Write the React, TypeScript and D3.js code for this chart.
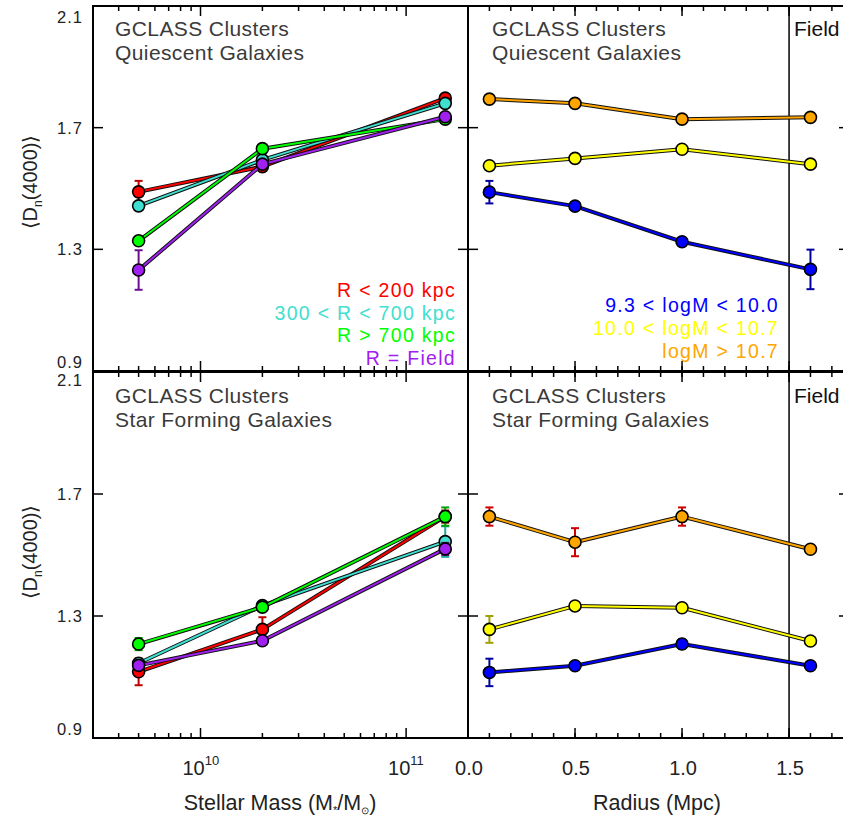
import React from "react";
import * as d3 from "d3";

// ---------- data ----------
const massBins = [5e9, 2e10, 1.55e11];
const radiusBins = [0.1, 0.5, 1.0, 1.6];

const qRed = [1.489, 1.572, 1.797];
const qRedErr = [0.036, 0.01, 0.01];
const qCyan = [1.443, 1.594, 1.78];
const qCyanErr = [0.01, 0.01, 0.01];
const qGreen = [1.328, 1.631, 1.728];
const qGreenErr = [0.01, 0.01, 0.01];
const qPurple = [1.232, 1.58, 1.736];
const qPurpleErr = [0.065, 0.01, 0.01];

const sfRed = [1.117, 1.256, 1.626];
const sfRedErr = [0.044, 0.04, 0.02];
const sfCyan = [1.145, 1.334, 1.544];
const sfCyanErr = [0.01, 0.01, 0.05];
const sfGreen = [1.208, 1.329, 1.626];
const sfGreenErr = [0.02, 0.01, 0.03];
const sfPurple = [1.138, 1.219, 1.52];
const sfPurpleErr = [0.01, 0.01, 0.02];

const qLow = [1.488, 1.442, 1.325, 1.234];
const qLowErr = [0.037, 0.01, 0.01, 0.065];
const qMid = [1.575, 1.599, 1.629, 1.58];
const qMidErr = [0.008, 0.008, 0.008, 0.012];
const qHigh = [1.794, 1.78, 1.728, 1.734];
const qHighErr = [0.005, 0.005, 0.005, 0.005];

const sfLow = [1.115, 1.137, 1.208, 1.137];
const sfLowErr = [0.045, 0.008, 0.015, 0.005];
const sfMid = [1.256, 1.333, 1.327, 1.218];
const sfMidErr = [0.044, 0.008, 0.008, 0.005];
const sfHigh = [1.626, 1.542, 1.626, 1.519];
const sfHighErr = [0.03, 0.046, 0.03, 0.005];

const yTicks = [0.9, 1.3, 1.7, 2.1];
const yTickLabels = ["0.9", "1.3", "1.7", "2.1"];
const massMajor = [1e10, 1e11];
const massMajorExp = ["10", "11"];
const massMinor = [4e9, 5e9, 6e9, 7e9, 8e9, 9e9, 2e10, 3e10, 4e10, 5e10, 6e10, 7e10, 8e10, 9e10];
const radMajor = [0, 0.5, 1.0, 1.5];
const radMajorLabels = ["0.0", "0.5", "1.0", "1.5"];
const radMinor = d3.range(1, 18).map((i) => i / 10);

const envLegend = ["R < 200 kpc", "300 < R < 700 kpc", "R > 700 kpc", "R = Field"];
const massLegend = ["9.3 < logM < 10.0", "10.0 < logM < 10.7", "logM > 10.7"];

// ---------- styles ----------
const C = {
  red: "#ff0000",
  cyan: "#40e0d0",
  green: "#00ff00",
  purple: "#a020f0",
  blue: "#0000ff",
  yellow: "#ffff00",
  orange: "#ffa500",
};
const EC = {
  red: "#c00000",
  cyan: "#20a8a0",
  green: "#00a000",
  purple: "#6a1090",
  blue: "#0000a0",
  yellow: "#a0a000",
  orange: "#d00000",
};

const FONT = "'Liberation Sans', Arial, Helvetica, sans-serif";

const LX0 = 93, LX1 = 468, RX0 = 468, RX1 = 849;
const TY0 = 6, TY1 = 371, BY0 = 372, BY1 = 738;

const xMass = d3.scaleLog().domain([3e9, 2e11]).range([LX0, LX1]);
const xRad = d3.scaleLinear().domain([0, 1.78]).range([RX0, RX1]);
const yTop = d3.scaleLinear().domain([0.9, 2.1]).range([TY1, TY0]);
const yBot = d3.scaleLinear().domain([0.9, 2.1]).range([BY1, BY0]);

type Series = { y: number[]; err: number[]; color: string; ecolor: string };

function SeriesG({ xs, s, x, y }: { xs: number[]; s: Series; x: any; y: any }) {
  const pts: [number, number][] = xs.map((xv, i) => [x(xv), y(s.y[i])]);
  const line = d3.line()(pts) || "";
  return (
    <g>
      {xs.map((xv, i) => {
        const cx = x(xv);
        const y1 = y(s.y[i] + s.err[i]);
        const y2 = y(s.y[i] - s.err[i]);
        return (
          <g key={i} stroke={s.ecolor} strokeWidth={2}>
            <line x1={cx} x2={cx} y1={y1} y2={y2} />
            <line x1={cx - 4} x2={cx + 4} y1={y1} y2={y1} />
            <line x1={cx - 4} x2={cx + 4} y1={y2} y2={y2} />
          </g>
        );
      })}
      <path d={line} fill="none" stroke="#111" strokeWidth={4} strokeLinejoin="round" />
      <path d={line} fill="none" stroke={s.color} strokeWidth={2} strokeLinejoin="round" />
      {pts.map((p, i) => (
        <circle key={i} cx={p[0]} cy={p[1]} r={6} fill={s.color} stroke="#000" strokeWidth={1.6} />
      ))}
    </g>
  );
}

function Frame({ x0, x1, y0, y1, xMajor, xMinor, xs, yScale, leftTicks, rightTicks }: any) {
  const els: any[] = [];
  xMajor.forEach((v: number, i: number) => {
    const px = xs(v);
    els.push(<line key={"xt" + i} x1={px} x2={px} y1={y0} y2={y0 + 10} />);
    els.push(<line key={"xb" + i} x1={px} x2={px} y1={y1} y2={y1 - 10} />);
  });
  xMinor.forEach((v: number, i: number) => {
    const px = xs(v);
    els.push(<line key={"mt" + i} x1={px} x2={px} y1={y0} y2={y0 + 5} />);
    els.push(<line key={"mb" + i} x1={px} x2={px} y1={y1} y2={y1 - 5} />);
  });
  yTicks.forEach((v, i) => {
    const py = yScale(v);
    if (leftTicks) els.push(<line key={"yl" + i} x1={x0} x2={x0 + 10} y1={py} y2={py} />);
    if (rightTicks) els.push(<line key={"yr" + i} x1={x1} x2={x1 - 10} y1={py} y2={py} />);
  });
  return (
    <g stroke="#000" strokeWidth={1.5} fill="none">
      {els}
      <rect x={x0} y={y0} width={x1 - x0} height={y1 - y0} strokeWidth={2} />
    </g>
  );
}

export default function App() {
  const topLeft: Series[] = [
    { y: qRed, err: qRedErr, color: C.red, ecolor: EC.red },
    { y: qCyan, err: qCyanErr, color: C.cyan, ecolor: EC.cyan },
    { y: qGreen, err: qGreenErr, color: C.green, ecolor: EC.green },
    { y: qPurple, err: qPurpleErr, color: C.purple, ecolor: EC.purple },
  ];
  const botLeft: Series[] = [
    { y: sfRed, err: sfRedErr, color: C.red, ecolor: EC.red },
    { y: sfCyan, err: sfCyanErr, color: C.cyan, ecolor: EC.cyan },
    { y: sfGreen, err: sfGreenErr, color: C.green, ecolor: EC.green },
    { y: sfPurple, err: sfPurpleErr, color: C.purple, ecolor: EC.purple },
  ];
  const topRight: Series[] = [
    { y: qHigh, err: qHighErr, color: C.orange, ecolor: EC.orange },
    { y: qMid, err: qMidErr, color: C.yellow, ecolor: EC.yellow },
    { y: qLow, err: qLowErr, color: C.blue, ecolor: EC.blue },
  ];
  const botRight: Series[] = [
    { y: sfHigh, err: sfHighErr, color: C.orange, ecolor: EC.orange },
    { y: sfMid, err: sfMidErr, color: C.yellow, ecolor: EC.yellow },
    { y: sfLow, err: sfLowErr, color: C.blue, ecolor: EC.blue },
  ];
  const envColors = [C.red, C.cyan, C.green, C.purple];
  const massColors = [C.blue, C.yellow, C.orange];
  const txt = "#3a3a3a";

  const yLabelY = (panel: "top" | "bot", v: number) => {
    const s = panel === "top" ? yTop : yBot;
    if (v === 2.1) return panel === "top" ? 23 : s(v) + 14;
    if (v === 0.9) return s(v) - 3.5;
    return s(v) + 6;
  };

  return (
    <svg
      width={843}
      height={818}
      style={{ position: "absolute", left: 0, top: 0, background: "#fff" }}
      fontFamily={FONT}
    >
      <rect x={0} y={0} width={843} height={818} fill="#fff" />

      {/* series */}
      {topLeft.map((s, i) => (
        <SeriesG key={"tl" + i} xs={massBins} s={s} x={xMass} y={yTop} />
      ))}
      {botLeft.map((s, i) => (
        <SeriesG key={"bl" + i} xs={massBins} s={s} x={xMass} y={yBot} />
      ))}
      {/* Field dividers */}
      <line x1={xRad(1.5)} x2={xRad(1.5)} y1={TY0} y2={TY1} stroke="#000" strokeWidth={1.5} />
      <line x1={xRad(1.5)} x2={xRad(1.5)} y1={BY0} y2={BY1} stroke="#000" strokeWidth={1.5} />
      {topRight.map((s, i) => (
        <SeriesG key={"tr" + i} xs={radiusBins} s={s} x={xRad} y={yTop} />
      ))}
      {botRight.map((s, i) => (
        <SeriesG key={"br" + i} xs={radiusBins} s={s} x={xRad} y={yBot} />
      ))}

      {/* frames */}
      <Frame x0={LX0} x1={LX1} y0={TY0} y1={TY1} xMajor={massMajor} xMinor={massMinor} xs={xMass} yScale={yTop} leftTicks rightTicks />
      <Frame x0={LX0} x1={LX1} y0={BY0} y1={BY1} xMajor={massMajor} xMinor={massMinor} xs={xMass} yScale={yBot} leftTicks rightTicks />
      <Frame x0={RX0} x1={RX1} y0={TY0} y1={TY1} xMajor={radMajor} xMinor={radMinor} xs={xRad} yScale={yTop} leftTicks rightTicks />
      <Frame x0={RX0} x1={RX1} y0={BY0} y1={BY1} xMajor={radMajor} xMinor={radMinor} xs={xRad} yScale={yBot} leftTicks rightTicks />

      {/* panel titles */}
      <g fill={txt} fontSize={21} letterSpacing={0.4}>
        <text x={115} y={36}>GCLASS Clusters</text>
        <text x={115} y={60}>Quiescent Galaxies</text>
        <text x={492} y={36}>GCLASS Clusters</text>
        <text x={492} y={60}>Quiescent Galaxies</text>
        <text x={115} y={403}>GCLASS Clusters</text>
        <text x={115} y={427}>Star Forming Galaxies</text>
        <text x={492} y={403}>GCLASS Clusters</text>
        <text x={492} y={427}>Star Forming Galaxies</text>
      </g>
      <g fill="#111" fontSize={21}>
        <text x={794} y={36}>Field</text>
        <text x={794} y={403}>Field</text>
      </g>

      {/* legends */}
      <g fontSize={19.5} letterSpacing={1.3} textAnchor="end">
        {envLegend.map((t, i) => (
          <text key={t} x={456} y={297 + i * 22.5} fill={envColors[i]}>{t}</text>
        ))}
        {massLegend.map((t, i) => (
          <text key={t} x={779} y={312 + i * 23} fill={massColors[i]}>{t}</text>
        ))}
      </g>

      {/* y tick labels */}
      <g fontSize={16.5} letterSpacing={1} fill="#222" textAnchor="end">
        {yTicks.map((v, i) => (
          <text key={"yt" + i} x={83} y={yLabelY("top", v)}>{yTickLabels[i]}</text>
        ))}
        {yTicks.map((v, i) => (
          <text key={"yb" + i} x={83} y={yLabelY("bot", v)}>{yTickLabels[i]}</text>
        ))}
      </g>

      {/* x tick labels */}
      <g fontSize={20} fill="#222">
        {massMajor.map((v, i) => (
          <text key={"mx" + i} x={xMass(v) - 18} y={775}>
            10<tspan dy={-10} fontSize={13}>{massMajorExp[i]}</tspan>
          </text>
        ))}
        {radMajor.map((v, i) => (
          <text key={"rx" + i} x={xRad(v) + 1} y={775} textAnchor="middle">{radMajorLabels[i]}</text>
        ))}
      </g>

      {/* axis titles */}
      <g fontSize={21.5} fill="#222">
        <text x={280} y={810} textAnchor="middle">
          Stellar Mass (M<tspan fontSize={11} dy={4}>*</tspan><tspan dy={-4}>/M</tspan><tspan fontSize={10} dy={4}>⊙</tspan><tspan dy={-4}>)</tspan>
        </text>
        <text x={657} y={810} textAnchor="middle">Radius (Mpc)</text>
      </g>
      {[182, 552].map((cy, i) => (
        <text
          key={"yl" + i}
          transform={`translate(37,${cy}) rotate(-90)`}
          textAnchor="middle"
          fontSize={20}
          fill="#222"
        >
          ⟨D<tspan fontSize={12} dy={5}>n</tspan><tspan dy={-5}>(4000)⟩</tspan>
        </text>
      ))}
    </svg>
  );
}
